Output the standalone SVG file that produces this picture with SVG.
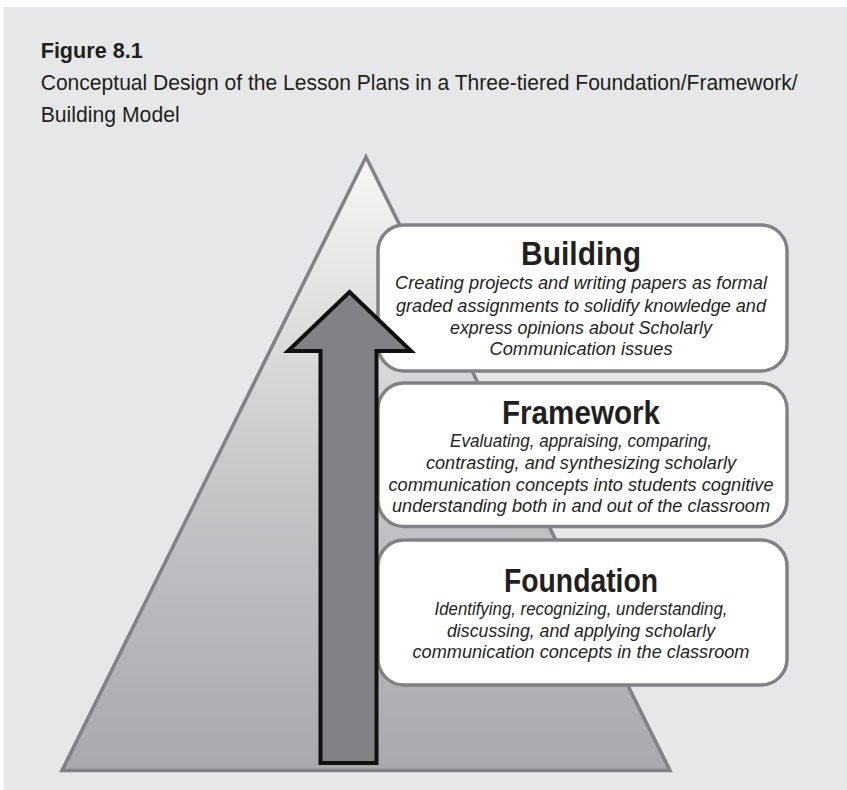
<svg xmlns="http://www.w3.org/2000/svg" width="847" height="790" viewBox="0 0 847 790">
<style>
  .hdr{font-family:"Liberation Sans",Arial,sans-serif;fill:#231f20;}
  .fig{font-size:22.5px;font-weight:bold;}
  .sub{font-size:21.5px;font-weight:normal;}
  .box{fill:#ffffff;stroke:#808285;stroke-width:3.5;}
  .ttl{font-family:"Liberation Sans",Arial,sans-serif;font-size:34px;font-weight:bold;fill:#231f20;text-anchor:middle;}
  .body{font-family:"Liberation Sans",Arial,sans-serif;font-size:18px;font-style:italic;fill:#231f20;text-anchor:middle;}
</style>
<defs>
  <linearGradient id="pyrGrad" x1="0" y1="154" x2="0" y2="772" gradientUnits="userSpaceOnUse">
    <stop offset="0" stop-color="#f7f7f7"/>
    <stop offset="0.55" stop-color="#c4c5c7"/>
    <stop offset="1" stop-color="#a7a9ac"/>
  </linearGradient>
</defs>
<rect id="background" x="3.5" y="7" width="843.5" height="783" fill="#e6e7e8"/>
<g id="caption">
  <text class="hdr fig" x="40.7" y="58" textLength="102" lengthAdjust="spacingAndGlyphs">Figure 8.1</text>
  <text class="hdr sub" x="40.7" y="89.5" textLength="757" lengthAdjust="spacingAndGlyphs">Conceptual Design of the Lesson Plans in a Three-tiered Foundation/Framework/</text>
  <text class="hdr sub" x="40.7" y="121.5" textLength="139" lengthAdjust="spacingAndGlyphs">Building Model</text>
</g>
<g id="pyramid">
  <polygon points="366,157 670,770.5 62,770.5" fill="url(#pyrGrad)" stroke="#808285" stroke-width="3.5" stroke-linejoin="miter"/>
</g>
<g id="building">
  <rect class="box" x="378" y="225" width="409" height="146" rx="26" ry="26"/>
  <text class="ttl" x="581" y="265" textLength="120" lengthAdjust="spacingAndGlyphs">Building</text>
  <text class="body" x="581" y="289" textLength="372" lengthAdjust="spacingAndGlyphs">Creating projects and writing papers as formal</text>
  <text class="body" x="581" y="311.5" textLength="370" lengthAdjust="spacingAndGlyphs">graded assignments to solidify knowledge and</text>
  <text class="body" x="581" y="333.5" textLength="262" lengthAdjust="spacingAndGlyphs">express opinions about Scholarly</text>
  <text class="body" x="581" y="355" textLength="183" lengthAdjust="spacingAndGlyphs">Communication issues</text>
</g>
<g id="framework">
  <rect class="box" x="378" y="383" width="409" height="143.5" rx="26" ry="26"/>
  <text class="ttl" x="581" y="424" textLength="158" lengthAdjust="spacingAndGlyphs">Framework</text>
  <text class="body" x="581" y="446.5" textLength="262" lengthAdjust="spacingAndGlyphs">Evaluating, appraising, comparing,</text>
  <text class="body" x="581" y="468.5" textLength="310" lengthAdjust="spacingAndGlyphs">contrasting, and synthesizing scholarly</text>
  <text class="body" x="581" y="490.5" textLength="385" lengthAdjust="spacingAndGlyphs">communication concepts into students cognitive</text>
  <text class="body" x="581" y="512" textLength="378" lengthAdjust="spacingAndGlyphs">understanding both in and out of the classroom</text>
</g>
<g id="foundation">
  <rect class="box" x="378" y="540" width="409" height="145" rx="26" ry="26"/>
  <text class="ttl" x="581" y="592" textLength="154" lengthAdjust="spacingAndGlyphs">Foundation</text>
  <text class="body" x="581" y="615" textLength="293" lengthAdjust="spacingAndGlyphs">Identifying, recognizing, understanding,</text>
  <text class="body" x="581" y="636.5" textLength="268" lengthAdjust="spacingAndGlyphs">discussing, and applying scholarly</text>
  <text class="body" x="581" y="658" textLength="337" lengthAdjust="spacingAndGlyphs">communication concepts in the classroom</text>
</g>
<g id="connectors">
  <path id="progress-arrow" d="M349.5,292 L411,351 L376.5,351 L376.5,763 L320.5,763 L320.5,351 L288,351 Z" fill="#808285" stroke="#111111" stroke-width="4" stroke-linejoin="miter"/>
</g>
</svg>
